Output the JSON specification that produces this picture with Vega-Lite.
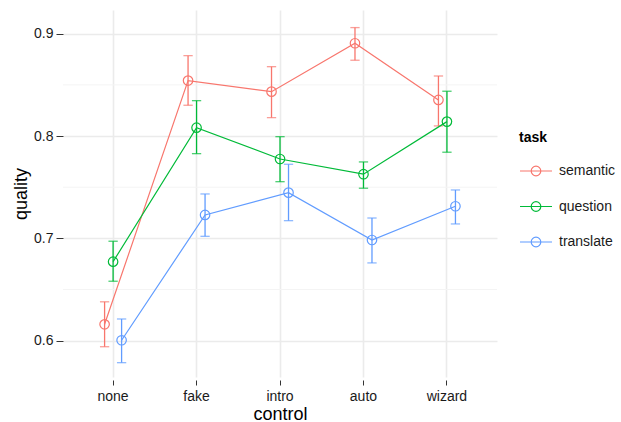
{
  "$schema": "https://vega.github.io/schema/vega-lite/v6.json",
  "width": 434,
  "height": 367,
  "autosize": {"type": "none"},
  "padding": {"left": 63, "top": 10, "right": 124, "bottom": 45},
  "background": "white",
  "config": {
    "font": "Liberation Sans",
    "view": {"stroke": null},
    "axis": {
      "domain": false,
      "labelFont": "Liberation Sans",
      "labelFontSize": 14,
      "labelColor": "#1a1a1a",
      "tickColor": "#333333",
      "titleFont": "Liberation Sans",
      "titleFontWeight": "normal",
      "titleFontSize": 18,
      "titleColor": "#000000",
      "gridColor": "#ebebeb",
      "gridWidth": 1.6
    },
    "legend": {
      "titleFont": "Liberation Sans",
      "labelFont": "Liberation Sans"
    }
  },
  "datasets": {
    "minor": [{"g": 0.65}, {"g": 0.75}, {"g": 0.85}],
    "main": [
      {"control": "none", "task": "semantic", "quality": 0.616, "lo": 0.5941, "hi": 0.638},
      {"control": "fake", "task": "semantic", "quality": 0.8542, "lo": 0.8301, "hi": 0.8786},
      {"control": "intro", "task": "semantic", "quality": 0.8434, "lo": 0.818, "hi": 0.8678},
      {"control": "auto", "task": "semantic", "quality": 0.8907, "lo": 0.8741, "hi": 0.906},
      {"control": "wizard", "task": "semantic", "quality": 0.8353, "lo": 0.8099, "hi": 0.8587},
      {"control": "none", "task": "question", "quality": 0.6772, "lo": 0.6581, "hi": 0.6972},
      {"control": "fake", "task": "question", "quality": 0.8082, "lo": 0.7828, "hi": 0.8346},
      {"control": "intro", "task": "question", "quality": 0.7776, "lo": 0.7554, "hi": 0.7994},
      {"control": "auto", "task": "question", "quality": 0.7627, "lo": 0.749, "hi": 0.7747},
      {"control": "wizard", "task": "question", "quality": 0.8141, "lo": 0.7842, "hi": 0.8438},
      {"control": "none", "task": "translate", "quality": 0.6004, "lo": 0.5785, "hi": 0.6212},
      {"control": "fake", "task": "translate", "quality": 0.7229, "lo": 0.702, "hi": 0.7434},
      {"control": "intro", "task": "translate", "quality": 0.7447, "lo": 0.7173, "hi": 0.7724},
      {"control": "auto", "task": "translate", "quality": 0.6984, "lo": 0.676, "hi": 0.7199},
      {"control": "wizard", "task": "translate", "quality": 0.7314, "lo": 0.7141, "hi": 0.7473}
    ]
  },
  "layer": [
    {
      "data": {"name": "minor"},
      "mark": {"type": "rule", "color": "#f4f4f4", "strokeWidth": 1},
      "encoding": {
        "y": {"field": "g", "type": "quantitative", "scale": {"domain": [0.5645, 0.9232], "nice": false, "zero": false},
          "axis": {"title": "quality", "values": [0.6, 0.7, 0.8, 0.9], "format": ".1f", "tickSize": 7, "labelPadding": 3, "titlePadding": 3}}
      }
    },
    {
      "data": {"name": "main"},
      "encoding": {
        "x": {
          "field": "control", "type": "nominal",
          "sort": ["none", "fake", "intro", "auto", "wizard"],
          "scale": {"type": "band", "paddingInner": 0, "paddingOuter": 0.1},
          "axis": {"title": "control", "labelAngle": 0, "grid": true, "bandPosition": 0.5, "tickBand": "center", "tickSize": 5, "offset": 3, "labelPadding": 4, "titlePadding": 2, "ticks": true}
        },
        "xOffset": {
          "field": "task", "type": "nominal",
          "sort": ["semantic", "question", "translate"],
          "scale": {"type": "band", "paddingInner": 0, "paddingOuter": 0, "range": [29, 54.5]}
        },
        "color": {
          "field": "task", "type": "nominal",
          "sort": ["semantic", "question", "translate"],
          "scale": {"domain": ["semantic", "question", "translate"], "range": ["#F8766D", "#00BA38", "#619CFF"]},
          "legend": {
            "title": "task",
            "orient": "none",
            "legendX": 456,
            "legendY": 121,
            "titleFontSize": 14,
            "titleFontWeight": "bold",
            "titleColor": "#000000",
            "labelFontSize": 14,
            "labelColor": "#1a1a1a",
            "symbolType": "M-1,0H1M-0.3,0A0.3,0.3 0 1,0 0.3,0A0.3,0.3 0 1,0 -0.3,0",
            "symbolSize": 1024,
            "symbolStrokeWidth": 1.2,
            "symbolFillColor": "transparent",
            "labelOffset": 6,
            "rowPadding": 10.5,
            "titlePadding": 9,
            "encode": {
              "symbols": {
                "update": {
                  "fill": {"value": "transparent"},
                  "strokeWidth": {"value": 1.2},
                  "opacity": {"value": 1}
                }
              }
            }
          }
        }
      },
      "layer": [
        {
          "mark": {"type": "rule", "strokeWidth": 1.3},
          "encoding": {
            "y": {"field": "lo", "type": "quantitative"},
            "y2": {"field": "hi"}
          }
        },
        {
          "mark": {"type": "tick", "size": 8, "thickness": 0.01, "filled": false, "strokeWidth": 1.3, "orient": "horizontal"},
          "encoding": {"y": {"field": "hi", "type": "quantitative"}}
        },
        {
          "mark": {"type": "tick", "size": 8, "thickness": 0.01, "filled": false, "strokeWidth": 1.3, "orient": "horizontal"},
          "encoding": {"y": {"field": "lo", "type": "quantitative"}}
        },
        {
          "mark": {"type": "line", "strokeWidth": 1.2},
          "encoding": {"y": {"field": "quality", "type": "quantitative"}}
        },
        {
          "mark": {"type": "point", "filled": false, "size": 90, "strokeWidth": 1.2, "opacity": 1},
          "encoding": {"y": {"field": "quality", "type": "quantitative"}}
        }
      ]
    }
  ]
}
